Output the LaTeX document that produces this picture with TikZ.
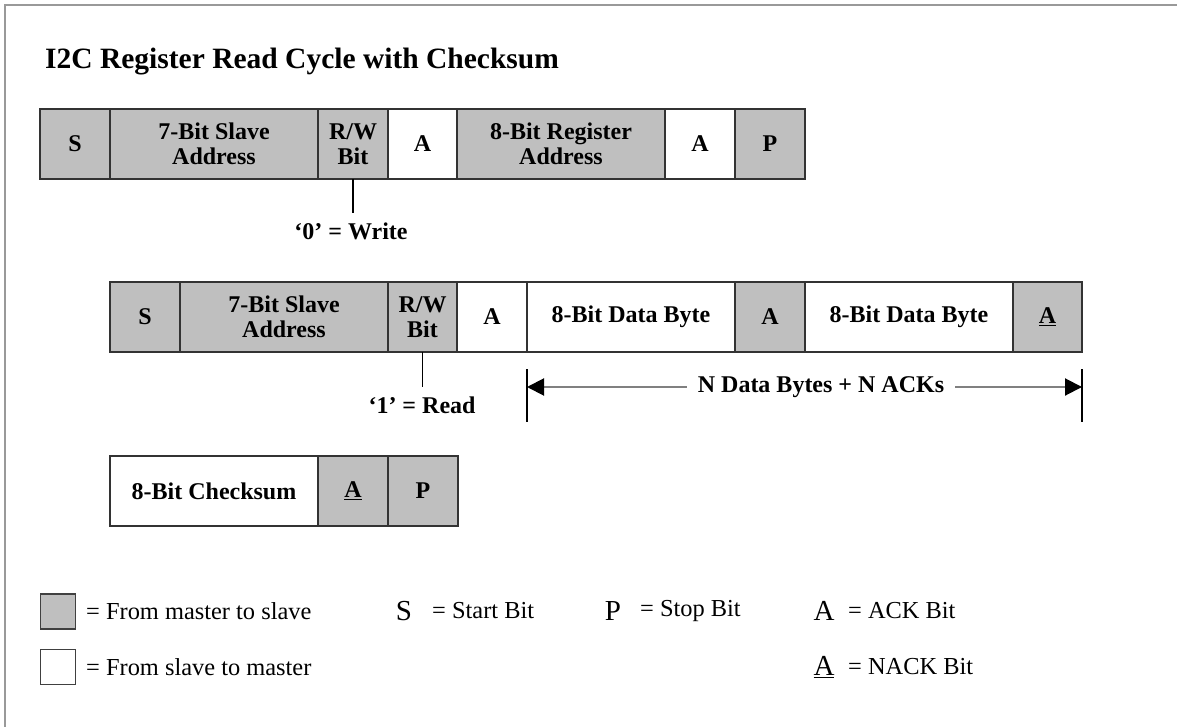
\documentclass[tikz,border=0pt]{standalone}
\usepackage{fontspec}
\setmainfont{Liberation Serif}
\usetikzlibrary{arrows.meta}
\begin{document}
\begin{tikzpicture}[x=1pt,y=-1pt,
  cell/.style={draw=black!80, line width=1.5pt, minimum height=70pt, inner sep=0pt, outer sep=0pt,
    font=\fontsize{24}{25}\selectfont\bfseries, align=center},
  m2s/.style={cell, fill=gray!50},
  s2m/.style={cell, fill=white},
  lbl/.style={inner sep=0pt, font=\fontsize{24}{25}\selectfont\bfseries},
  leg/.style={inner sep=0pt, anchor=west, font=\fontsize{24.4}{25}\selectfont},
  sym/.style={inner sep=0pt, font=\fontsize{29}{30}\selectfont},
  conn/.style={draw=black, line width=1.3pt},
  dimline/.style={draw=gray, line width=2pt},
  tick/.style={draw=black, line width=1.3pt},
  key/.style={draw=black!75, line width=1.2pt, minimum size=35pt, inner sep=0pt}
]
\useasboundingbox (0,0) rectangle (1177,727);
% frame
\coordinate (fbl) at (5,727);
\coordinate (ftl) at (5,5);
\coordinate (ftr) at (1177,5);
\draw[gray!80, line width=2.2pt] (fbl) -- (ftl) -- (ftr);

% title
\node[anchor=base west, inner sep=0pt, font=\fontsize{29.5}{31}\selectfont\bfseries] (title) at (45,69)
  {I2C Register Read Cycle with Checksum};

% row 1
\node[m2s, minimum width=70pt]  (a1) at (75,144)  {S};
\node[m2s, minimum width=208pt] (a2) at (214,144) {7-Bit Slave\\Address};
\node[m2s, minimum width=70pt]  (a3) at (353,144) {R/W\\Bit};
\node[s2m, minimum width=69pt]  (a4) at (422.5,144) {A};
\node[m2s, minimum width=208pt] (a5) at (561,144) {8-Bit Register\\Address};
\node[s2m, minimum width=70pt]  (a6) at (700,144) {A};
\node[m2s, minimum width=70pt]  (a7) at (770,144) {P};

\node[lbl] (w0) at (351,231) {‘0’ = Write};
\coordinate (w0end) at (353,213);
\draw[conn] (a3.south) -- (w0end);

% row 2
\node[m2s, minimum width=70pt]  (b1) at (145,317)  {S};
\node[m2s, minimum width=208pt] (b2) at (284,317)  {7-Bit Slave\\Address};
\node[m2s, minimum width=69pt]  (b3) at (422.5,317) {R/W\\Bit};
\node[s2m, minimum width=70pt]  (b4) at (492,317)  {A};
\node[s2m, minimum width=208pt] (b5) at (631,317)  {8-Bit Data Byte};
\node[m2s, minimum width=70pt]  (b6) at (770,317)  {A};
\node[s2m, minimum width=208pt] (b7) at (909,317)  {8-Bit Data Byte};
\node[m2s, minimum width=69pt]  (b8) at (1047.5,317) {\underline{A}};

\node[lbl] (r1) at (422,405) {‘1’ = Read};
\coordinate (r1end) at (422.5,387);
\draw[conn] (b3.south) -- (r1end);

% dimension arrow
\coordinate (tl1) at (527,369);
\coordinate (tl2) at (527,422);
\coordinate (tr1) at (1082,369);
\coordinate (tr2) at (1082,422);
\draw[tick] (tl1) -- (tl2);
\draw[tick] (tr1) -- (tr2);
\coordinate (al) at (527,387);
\coordinate (ar) at (1082,387);
\node[lbl, fill=white, inner xsep=11pt, inner ysep=2pt] (nd) at (821,387) {N Data Bytes + N ACKs};
\draw[dimline, -{Triangle[length=17pt,width=17pt,color=black]}] (nd.west) -- (al);
\draw[dimline, -{Triangle[length=17pt,width=17pt,color=black]}] (nd.east) -- (ar);

% row 3
\node[s2m, minimum width=208pt] (c1) at (214,491) {8-Bit Checksum};
\node[m2s, minimum width=70pt]  (c2) at (353,491) {\underline{A}};
\node[m2s, minimum width=70pt]  (c3) at (423,491) {P};

% legend
\node[key, fill=gray!50] (k1) at (58,611.5) {};
\node[key, fill=white]   (k2) at (58,667) {};
\node[leg] (kt1) at (86,611) {= From master to slave};
\node[leg] (kt2) at (86,667) {= From slave to master};

\node[sym] (ks) at (404,611) {S};
\node[leg] (kst) at (432,611) {= Start Bit};
\node[sym] (kp) at (613,611) {P};
\node[leg] (kpt) at (640,611) {= Stop Bit};
\node[sym] (ka) at (824,611) {A};
\node[leg] (kat) at (848,611) {= ACK Bit};
\node[sym] (kn) at (824,667) {\underline{A}};
\node[leg] (knt) at (848,667) {= NACK Bit};
\end{tikzpicture}
\end{document}
